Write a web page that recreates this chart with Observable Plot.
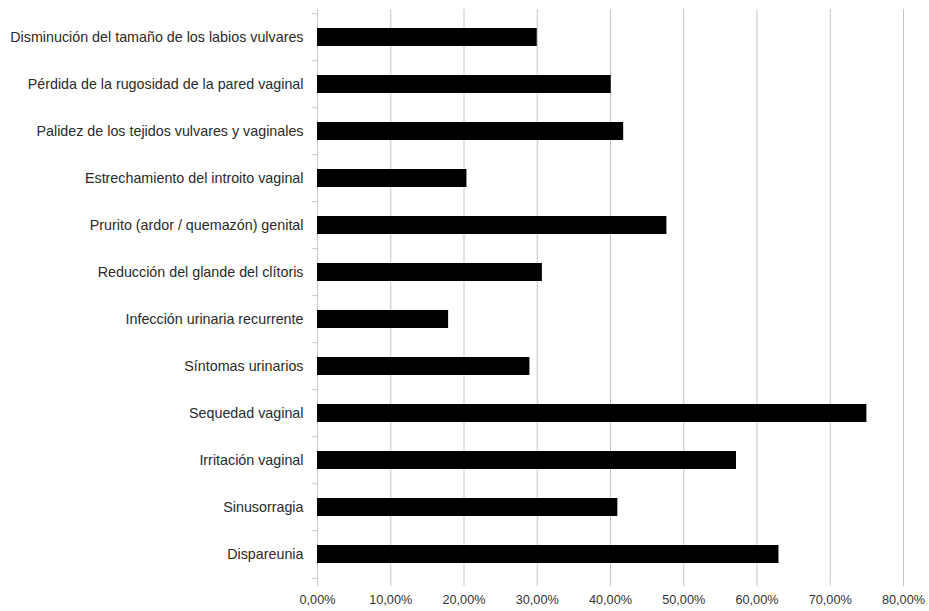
<!DOCTYPE html>
<html>
<head>
<meta charset="utf-8">
<script src="https://cdn.jsdelivr.net/npm/d3@7"></script>
<script src="https://cdn.jsdelivr.net/npm/@observablehq/plot@0.6"></script>
<style>
  html, body { margin: 0; padding: 0; background: #fff; }
  #chart svg { display: block; }
</style>
</head>
<body>
<div id="chart"></div>
<script>
const categories = [
  "Disminución del tamaño de los labios vulvares",
  "Pérdida de la rugosidad de la pared vaginal",
  "Palidez de los tejidos vulvares y vaginales",
  "Estrechamiento del introito vaginal",
  "Prurito (ardor / quemazón) genital",
  "Reducción del glande del clítoris",
  "Infección urinaria recurrente",
  "Síntomas urinarios",
  "Sequedad vaginal",
  "Irritación vaginal",
  "Sinusorragia",
  "Dispareunia"
];
const values = [30.0, 40.1, 41.8, 20.4, 47.7, 30.7, 17.9, 29.0, 75.0, 57.2, 41.0, 63.0];
const xTicks = [0, 10, 20, 30, 40, 50, 60, 70, 80];

const data = categories.map((c, i) => ({category: c, value: values[i]}));
const fmt = d => d.toFixed(2).replace(".", ",") + "%";

const H = 611, mTop = 9, mBottom = 30;
const step = (H - mTop - mBottom) / categories.length;

const chart = Plot.plot({
  width: 929,
  height: H,
  marginLeft: 317,
  marginRight: 26,
  marginTop: mTop,
  marginBottom: mBottom,
  style: {fontFamily: "'Liberation Sans', Arial, sans-serif", fontSize: "12.7px", color: "#333", background: "#fff"},
  x: {domain: [0, 80], ticks: xTicks},
  y: {domain: categories, paddingInner: 0.62, paddingOuter: 0.31},
  marks: [
    Plot.gridX(xTicks, {stroke: "#c4c4c4", strokeOpacity: 1, strokeWidth: 1}),
    Plot.ruleY([0], {frameAnchor: "bottom", stroke: "#c8c8c8"}),
    Plot.ruleX([0], {stroke: "#c8c8c8"}),
    Plot.ruleY(categories, {y: d => d, x1: -0.75, x2: 0, dy: -step / 2, stroke: "#c8c8c8"}),
    Plot.ruleY([categories[categories.length - 1]], {y: d => d, x1: -0.75, x2: 0, dy: step / 2, stroke: "#c8c8c8"}),
    Plot.barX(data, {y: "category", x: "value", fill: "#000"}),
    Plot.axisX({ticks: xTicks, tickFormat: fmt, tickSize: 5, tickPadding: 8, stroke: "#c8c8c8", fill: "#333", label: null}),
    Plot.axisY({tickSize: 0, tickPadding: 14, fill: "#2a2a2a", fontSize: 14.3, label: null})
  ]
});
document.getElementById("chart").appendChild(chart);
</script>
</body>
</html>
